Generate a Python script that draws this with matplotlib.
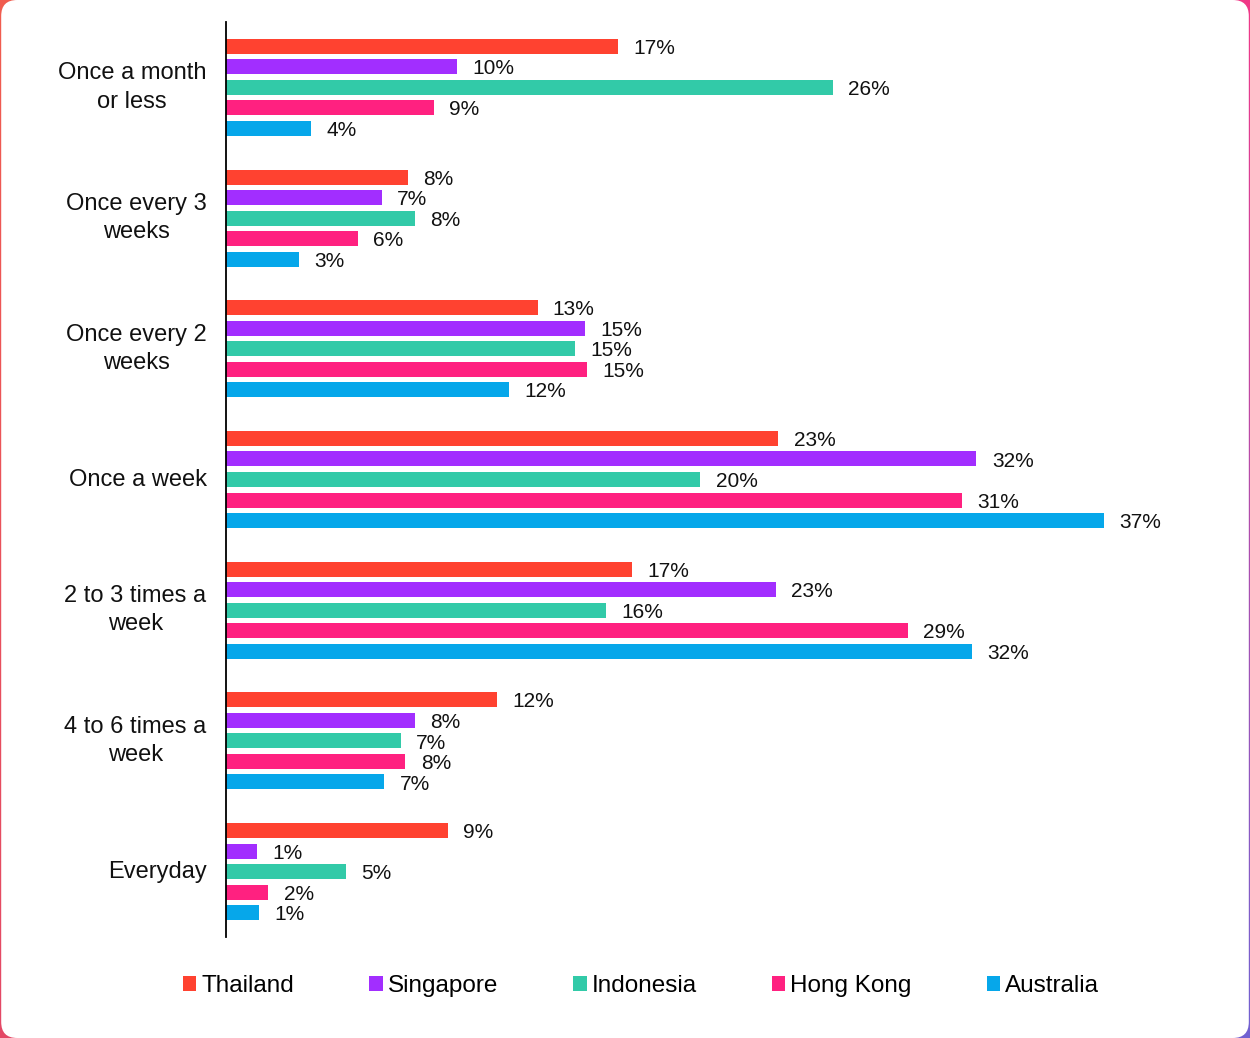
import numpy as np
import matplotlib
matplotlib.use("Agg")
import matplotlib.pyplot as plt
from matplotlib.patches import FancyBboxPatch, Rectangle

plt.rcParams['font.family'] = ['Liberation Sans', 'DejaVu Sans']

categories = ["Once a month\nor less", "Once every 3\nweeks", "Once every 2\nweeks",
              "Once a week", "2 to 3 times a\nweek", "4 to 6 times a\nweek", "Everyday"]
countries = ["Thailand", "Singapore", "Indonesia", "Hong Kong", "Australia"]
# shares in % (labels show them rounded)
thailand = [16.6, 7.7, 13.2, 23.4, 17.2, 11.5, 9.4]
singapore = [9.8, 6.6, 15.2, 31.8, 23.3, 8.0, 1.3]
indonesia = [25.7, 8.0, 14.8, 20.1, 16.1, 7.4, 5.1]
hong_kong = [8.8, 5.6, 15.3, 31.2, 28.9, 7.6, 1.8]
australia = [3.6, 3.1, 12.0, 37.2, 31.6, 6.7, 1.4]
series = [thailand, singapore, indonesia, hong_kong, australia]
colors = ["#FF4230", "#A22EFF", "#32CAA8", "#FF2180", "#06A7EA"]

W, H = 1250, 1038
fig = plt.figure(figsize=(W / 100, H / 100), dpi=100)

# gradient frame behind a white rounded card
bg = fig.add_axes([0, 0, 1, 1], zorder=-10)
bg.set_xlim(0, W)
bg.set_ylim(0, H)
bg.axis("off")
tl = np.array([0.94, 0.29, 0.23])
tr = np.array([0.94, 0.13, 0.48])
bl = np.array([0.88, 0.20, 0.33])
br = np.array([0.38, 0.31, 0.80])
u = np.linspace(0, 1, 200)[None, :, None]
v = np.linspace(0, 1, 200)[:, None, None]
grad = (1 - v) * ((1 - u) * tl + u * tr) + v * ((1 - u) * bl + u * br)
bg.imshow(grad, extent=(0, W, 0, H), origin="upper", aspect="auto", alpha=0.9)
bg.add_patch(FancyBboxPatch((1.2, 0), W - 2.4, H, boxstyle="round,pad=0,rounding_size=16",
                            facecolor="white", edgecolor="none"))

ax = fig.add_axes([226 / W, 1 - 937 / H, 974 / W, 915 / H])
step = 0.157
bar_h = 0.115
y = np.arange(len(categories))
for k, (vals, col) in enumerate(zip(series, colors)):
    ypos = y + (k - 2) * step
    ax.barh(ypos, vals, height=bar_h, color=col, label=countries[k])
    for yy, val in zip(ypos, vals):
        ax.annotate(f"{round(val)}%", (val, yy), xytext=(11, -1.5), textcoords="offset points",
                    ha="left", va="center", fontsize=15, color="#111111")

ax.set_xlim(0, 974 / 23.6)
ax.set_ylim(6.5, -0.5)
ax.set_xticks([])
ax.set_yticks(y)
ax.set_yticklabels(categories, fontsize=17, color="#111111")
for t in ax.get_yticklabels():
    t.set_multialignment("center")
    t.set_verticalalignment("center")
    t.set_linespacing(1.38)
ax.tick_params(axis="y", length=0, pad=14)
for s in ["top", "right", "bottom"]:
    ax.spines[s].set_visible(False)
ax.spines["left"].set_linewidth(1.3)
ax.spines["left"].set_color("black")
ax.patch.set_alpha(0)

handles = [Rectangle((0, 0), 1, 1, facecolor=c) for c in colors]
fig.legend(handles, countries, loc="center", bbox_to_anchor=(641 / W, 1 - 986 / H),
           ncol=5, frameon=False, fontsize=17.5, handlelength=0.55, handleheight=0.55,
           handletextpad=0.2, columnspacing=3.1)

fig.savefig("out.png", dpi=100)
